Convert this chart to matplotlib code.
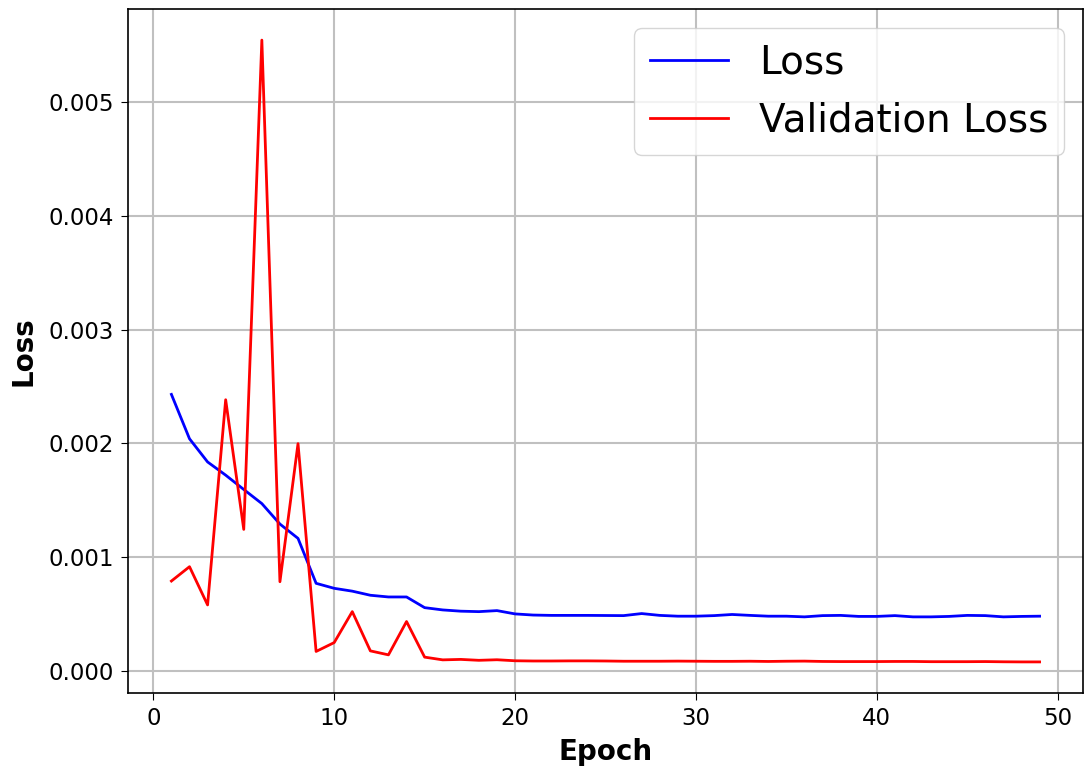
import matplotlib
matplotlib.use("Agg")
import matplotlib.pyplot as plt

epochs = list(range(1, 50))
loss = [2.43e-3, 2.04e-3, 1.836e-3, 1.72e-3, 1.594e-3, 1.47e-3, 1.29e-3, 1.164e-3, 0.769e-3, 0.725e-3,
        0.70e-3, 0.664e-3, 0.649e-3, 0.649e-3, 0.555e-3, 0.535e-3, 0.524e-3, 0.52e-3, 0.529e-3, 0.50e-3,
        0.49e-3, 0.487e-3, 0.487e-3, 0.487e-3, 0.486e-3, 0.485e-3, 0.503e-3, 0.487e-3, 0.48e-3, 0.48e-3,
        0.485e-3, 0.495e-3, 0.487e-3, 0.48e-3, 0.48e-3, 0.474e-3, 0.485e-3, 0.487e-3, 0.478e-3, 0.478e-3,
        0.485e-3, 0.474e-3, 0.474e-3, 0.478e-3, 0.487e-3, 0.485e-3, 0.474e-3, 0.478e-3, 0.48e-3]
val_loss = [0.789e-3, 0.915e-3, 0.579e-3, 2.383e-3, 1.243e-3, 5.545e-3, 0.783e-3, 1.997e-3, 0.17e-3, 0.248e-3,
            0.52e-3, 0.175e-3, 0.14e-3, 0.433e-3, 0.12e-3, 0.096e-3, 0.10e-3, 0.092e-3, 0.097e-3, 0.088e-3,
            0.086e-3, 0.086e-3, 0.087e-3, 0.087e-3, 0.086e-3, 0.084e-3, 0.084e-3, 0.084e-3, 0.085e-3, 0.084e-3,
            0.083e-3, 0.083e-3, 0.084e-3, 0.082e-3, 0.084e-3, 0.085e-3, 0.082e-3, 0.081e-3, 0.081e-3, 0.081e-3,
            0.082e-3, 0.082e-3, 0.080e-3, 0.080e-3, 0.080e-3, 0.081e-3, 0.079e-3, 0.078e-3, 0.078e-3]

fig = plt.figure(figsize=(10.84, 7.69), dpi=100)
ax = fig.add_axes([128 / 1084, 1 - 693 / 769, (1083 - 128) / 1084, (693 - 9) / 769])

ax.plot(epochs, loss, color="blue", linewidth=2, label="Loss")
ax.plot(epochs, val_loss, color="red", linewidth=2, label="Validation Loss")

ax.set_title("Loss per Epoch", fontsize=20, fontweight="bold", pad=14)
ax.set_xlabel("Epoch", fontsize=20, fontweight="bold", labelpad=6)
ax.set_ylabel("Loss", fontsize=20, fontweight="bold", labelpad=8)
ax.tick_params(axis="both", labelsize=16.5, length=5, pad=5)
ax.grid(True, color="#c0c0c0", linewidth=1.5)
for s in ax.spines.values():
    s.set_linewidth(1.2)
ax.legend(loc="upper right", fontsize=28)

fig.savefig("out.png", dpi=100)
